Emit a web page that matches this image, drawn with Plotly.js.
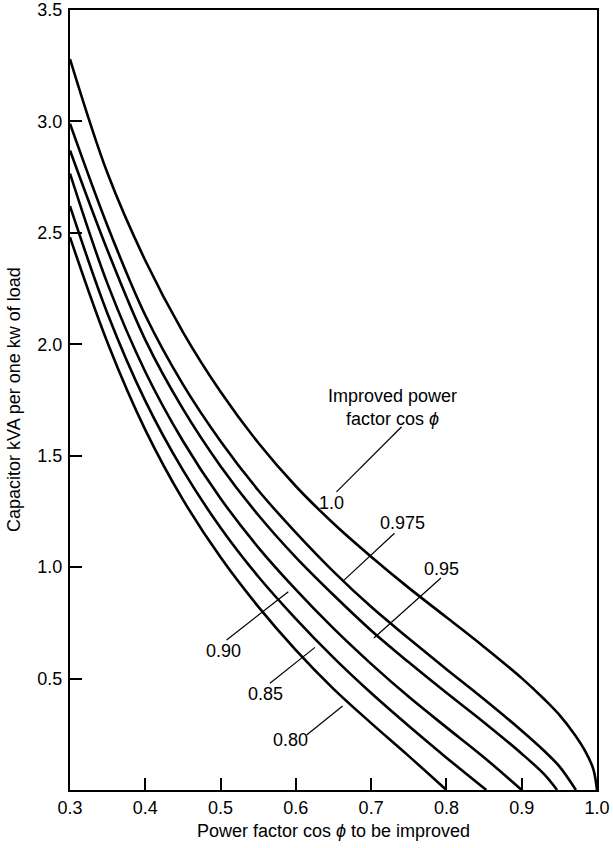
<!DOCTYPE html>
<html>
<head>
<meta charset="utf-8">
<script src="https://cdn.plot.ly/plotly-3.0.1.min.js"></script>
<style>html,body{margin:0;padding:0;background:#fff;}#chart{width:613px;height:848px;}</style>
</head>
<body>
<div id="chart"></div>
<script>
// Improved power factor curves: x = power factor to be improved, y = capacitor kVA per kW
const x_100 = [0.30,0.35,0.40,0.45,0.50,0.55,0.60,0.65,0.70,0.75,0.80,0.85,0.90,0.93,0.95,0.97,0.985,0.995,1.00];
const y_100 = [3.28,2.766,2.376,2.055,1.787,1.558,1.363,1.196,1.047,0.907,0.775,0.642,0.502,0.407,0.337,0.250,0.170,0.095,0.00];
const x_0975 = [0.30,0.35,0.40,0.45,0.50,0.55,0.60,0.65,0.70,0.75,0.80,0.85,0.90,0.93,0.95,0.972];
const y_0975 = [2.99,2.53,2.13,1.82,1.565,1.345,1.155,0.98,0.822,0.68,0.542,0.407,0.266,0.175,0.106,0.00];
const x_095 = [0.30,0.35,0.40,0.45,0.50,0.55,0.60,0.65,0.70,0.75,0.80,0.85,0.90,0.93,0.947];
const y_095 = [2.87,2.42,2.02,1.71,1.453,1.234,1.044,0.875,0.716,0.573,0.436,0.303,0.163,0.07,0.00];
const x_090 = [0.30,0.35,0.40,0.45,0.50,0.55,0.60,0.65,0.70,0.75,0.80,0.85,0.90];
const y_090 = [2.766,2.27,1.877,1.566,1.308,1.089,0.899,0.725,0.566,0.418,0.281,0.146,0.00];
const x_085 = [0.30,0.35,0.40,0.45,0.50,0.55,0.60,0.65,0.70,0.75,0.80,0.853];
const y_085 = [2.62,2.136,1.746,1.435,1.177,0.958,0.768,0.594,0.435,0.287,0.145,0.00];
const x_080 = [0.30,0.35,0.40,0.45,0.50,0.55,0.60,0.65,0.70,0.75,0.80];
const y_080 = [2.48,2.006,1.616,1.303,1.044,0.823,0.628,0.454,0.30,0.152,0.00];

const curveNames = ["1.0","0.975","0.95","0.90","0.85","0.80"];
const curveX = [x_100,x_0975,x_095,x_090,x_085,x_080];
const curveY = [y_100,y_0975,y_095,y_090,y_085,y_080];

const xTickVals = [0.3,0.4,0.5,0.6,0.7,0.8,0.9,1.0];
const xTickText = ["0.3","0.4","0.5","0.6","0.7","0.8","0.9","1.0"];
const yTickVals = [0.5,1.0,1.5,2.0,2.5,3.0,3.5];
const yTickText = ["0.5","1.0","1.5","2.0","2.5","3.0","3.5"];

// curve labels: text, text position, leader line start and end (data units)
const labelText = ["1.0","0.975","0.95","0.90","0.85","0.80","Improved power<br>factor cos <i>ϕ</i>"];
const labelX = [0.647,0.742,0.794,0.5036,0.560,0.593,0.729];
const labelY = [1.288,1.198,0.990,0.625,0.431,0.224,1.718];
const leaderX0 = [0.654,0.731,0.7927,0.508,0.5656,0.6143];
const leaderY0 = [1.338,1.152,0.951,0.673,0.479,0.247];
const leaderX1 = [0.7405,0.664,0.7037,0.590,0.6254,0.6621];
const leaderY1 = [1.630,0.942,0.682,0.890,0.640,0.377];

const FONT = "Liberation Sans, Arial, Helvetica, sans-serif";

const traces = curveNames.map((n,i)=>({
  type:"scatter", mode:"lines", name:n,
  x:curveX[i], y:curveY[i],
  line:{color:"#000", width:2.6, shape:"spline", smoothing:1},
  hoverinfo:"skip", showlegend:false
}));

const annotations = labelText.map((t,i)=>({
  x:labelX[i], y:labelY[i], xref:"x", yref:"y", text:t, showarrow:false,
  font:{family:FONT, size:18, color:"#000"}, align:"center",
  xanchor:"center", yanchor:"middle"
}));
annotations.push({
  xref:"paper", yref:"paper", x:0, y:0.5, xshift:-56, textangle:-90,
  text:"Capacitor kVA per one kw of load", showarrow:false,
  font:{family:FONT, size:18, color:"#000"}, xanchor:"center", yanchor:"middle"
});

const shapes = leaderX0.map((x0,i)=>({
  type:"line", xref:"x", yref:"y", x0:x0, y0:leaderY0[i], x1:leaderX1[i], y1:leaderY1[i],
  line:{color:"#000", width:1.2}
}));

const layout = {
  width:613, height:848,
  margin:{l:70, r:16, t:10, b:58},
  paper_bgcolor:"#fff", plot_bgcolor:"#fff",
  font:{family:FONT, size:18, color:"#000"},
  showlegend:false,
  xaxis:{
    range:[0.3,1.0], tickvals:xTickVals, ticktext:xTickText,
    ticks:"inside", ticklen:12, tickwidth:2, tickcolor:"#000",
    showline:true, linewidth:2, linecolor:"#000", mirror:true,
    showgrid:false, zeroline:false,
    tickfont:{family:FONT, size:18, color:"#000"},
    title:{text:"Power factor cos <i>ϕ</i> to be improved", font:{family:FONT, size:18, color:"#000"}, standoff:8}
  },
  yaxis:{
    range:[0,3.5], tickvals:yTickVals, ticktext:yTickText,
    ticks:"inside", ticklen:12, tickwidth:2, tickcolor:"#000",
    showline:true, linewidth:2, linecolor:"#000", mirror:true,
    showgrid:false, zeroline:false, ticklabelstandoff:2,
    tickfont:{family:FONT, size:18, color:"#000"}
  },
  annotations:annotations,
  shapes:shapes
};

Plotly.newPlot("chart", traces, layout, {displayModeBar:false, staticPlot:true});
</script>
</body>
</html>
